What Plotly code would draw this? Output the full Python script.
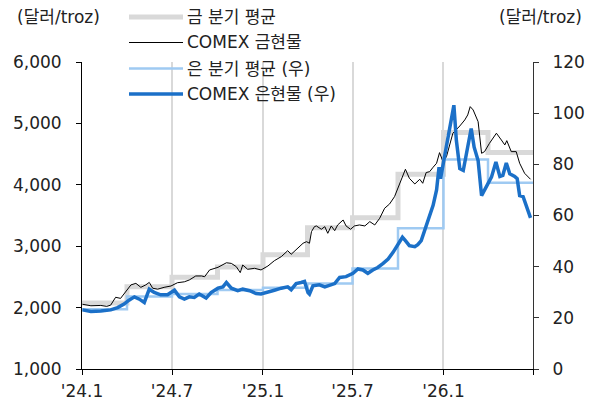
import plotly.graph_objects as go

# weekly-ish COMEX prices
gold_dates = ["2024-01-02", "2024-01-19", "2024-02-08", "2024-02-20", "2024-02-28", "2024-03-09", "2024-03-19",
              "2024-03-30", "2024-04-09", "2024-04-19", "2024-04-29", "2024-05-09", "2024-05-16", "2024-05-23",
              "2024-06-02", "2024-06-15", "2024-06-29", "2024-07-12", "2024-07-26", "2024-08-05", "2024-08-18",
              "2024-08-30", "2024-09-05", "2024-09-15", "2024-10-02", "2024-10-19", "2024-10-29", "2024-11-08",
              "2024-11-16", "2024-11-21", "2024-12-01", "2024-12-15", "2024-12-28", "2025-01-11", "2025-01-24",
              "2025-02-07", "2025-02-20", "2025-02-27", "2025-03-13", "2025-03-23", "2025-03-30", "2025-04-05",
              "2025-04-09", "2025-04-15", "2025-04-19", "2025-04-29", "2025-05-06", "2025-05-12", "2025-05-19",
              "2025-05-26", "2025-06-01", "2025-06-12", "2025-06-18", "2025-06-27", "2025-07-05", "2025-07-15",
              "2025-07-26", "2025-08-05", "2025-08-15", "2025-08-25", "2025-09-04", "2025-09-14", "2025-09-24",
              "2025-10-04", "2025-10-16", "2025-10-24", "2025-11-04", "2025-11-14", "2025-11-20", "2025-11-27",
              "2025-12-04", "2025-12-11", "2025-12-18", "2025-12-24", "2025-12-31", "2026-01-07", "2026-01-20",
              "2026-02-03", "2026-02-13", "2026-02-19", "2026-02-24", "2026-03-02", "2026-03-12", "2026-03-19",
              "2026-03-25", "2026-04-04", "2026-04-18", "2026-04-28", "2026-05-05", "2026-05-09", "2026-05-18",
              "2026-05-28", "2026-06-04", "2026-06-14", "2026-06-26"]
gold_spot = [2054, 2030, 2035, 2020, 2040, 2168, 2150, 2260, 2370, 2395, 2330, 2370, 2410, 2315, 2300, 2330,
             2352, 2405, 2420, 2450, 2515, 2515, 2503, 2613, 2656, 2730, 2720, 2667, 2570, 2694, 2624, 2640,
             2613, 2678, 2764, 2830, 2927, 2868, 2982, 3048, 3074, 3048, 3237, 3318, 3330, 3276, 3318, 3210,
             3330, 3253, 3346, 3427, 3330, 3276, 3330, 3346, 3330, 3400, 3346, 3455, 3618, 3688, 3807, 4025,
             4253, 4106, 4013, 4090, 4025, 4200, 4214, 4286, 4351, 4524, 4377, 4458, 4840, 4958, 5056, 5138,
             5273, 5219, 5028, 4513, 4540, 4676, 4840, 4730, 4649, 4719, 4540, 4540, 4351, 4188, 4090]

silver_dates = ["2024-01-02", "2024-01-19", "2024-02-08", "2024-02-28", "2024-03-13", "2024-03-26", "2024-04-05",
                "2024-04-16", "2024-04-26", "2024-05-06", "2024-05-16", "2024-05-26", "2024-06-08", "2024-06-22",
                "2024-07-06", "2024-07-16", "2024-07-26", "2024-08-05", "2024-08-15", "2024-08-25", "2024-09-08",
                "2024-09-18", "2024-10-02", "2024-10-12", "2024-10-19", "2024-10-29", "2024-11-11", "2024-11-21",
                "2024-12-05", "2024-12-18", "2024-12-28", "2025-01-11", "2025-01-24", "2025-02-07", "2025-02-20",
                "2025-02-27", "2025-03-09", "2025-03-19", "2025-03-26", "2025-04-02", "2025-04-05", "2025-04-12",
                "2025-04-25", "2025-05-06", "2025-05-16", "2025-05-26", "2025-06-05", "2025-06-18", "2025-07-02",
                "2025-07-12", "2025-07-22", "2025-08-01", "2025-08-11", "2025-08-21", "2025-09-01", "2025-09-11",
                "2025-09-21", "2025-10-01", "2025-10-10", "2025-10-16", "2025-10-24", "2025-11-04", "2025-11-10",
                "2025-11-17", "2025-11-24", "2025-12-01", "2025-12-11", "2025-12-18", "2025-12-23", "2025-12-26",
                "2025-12-31", "2026-01-07", "2026-01-15", "2026-01-22", "2026-01-27", "2026-02-03", "2026-02-10",
                "2026-02-16", "2026-02-26", "2026-03-04", "2026-03-12", "2026-03-19", "2026-03-29", "2026-04-08",
                "2026-04-17", "2026-04-25", "2026-05-01", "2026-05-08", "2026-05-15", "2026-05-25", "2026-05-30",
                "2026-06-04", "2026-06-11", "2026-06-18", "2026-06-26"]
silver_spot = [23.1, 22.5, 22.7, 23.1, 24.0, 25.4, 26.9, 28.2, 27.3, 26.0, 31.2, 29.9, 29.0, 29.0, 30.8, 28.2,
               27.3, 28.2, 28.0, 29.3, 27.7, 29.9, 31.6, 32.1, 33.8, 31.6, 30.6, 31.2, 30.6, 29.5, 29.3, 29.9,
               30.8, 31.6, 32.1, 31.0, 33.4, 33.8, 34.2, 29.9, 29.3, 32.5, 32.9, 32.1, 32.9, 33.4, 35.8, 36.1,
               37.4, 39.1, 38.7, 37.4, 38.7, 39.7, 41.3, 43.0, 45.6, 48.9, 51.5, 50.2, 48.2, 47.8, 48.6, 50.2,
               54.1, 58.7, 64.0, 70.0, 78.9, 74.4, 79.6, 86.7, 95.9, 103.1, 89.4, 78.3, 77.6, 84.2, 94.0, 86.7,
               81.5, 67.8, 71.1, 75.0, 80.9, 75.3, 75.7, 80.5, 76.3, 75.3, 74.4, 67.8, 67.4, 63.9, 59.1]

# quarterly averages (step lines), quarter starts + end of last quarter
quarter_starts = ["2024-01-01", "2024-04-01", "2024-07-01", "2024-10-01", "2025-01-01", "2025-04-01",
                  "2025-07-01", "2025-10-01", "2026-01-01", "2026-04-01", "2026-07-01"]
gold_qavg = [2075, 2340, 2495, 2660, 2860, 3300, 3465, 4170, 4850, 4525]
silver_qavg = [23.4, 28.3, 29.3, 30.9, 31.8, 33.4, 39.3, 55.0, 81.9, 72.8]

tick_dates = ["2024-01-01", "2024-07-01", "2025-01-01", "2025-07-01", "2026-01-01", "2026-07-01"]
tick_labels = ["'24.1", "'24.7", "'25.1", "'25.7", "'26.1", ""]

legend_names = ["금 분기 평균", "COMEX 금현물", "은 분기 평균 (우)", "COMEX 은현물 (우)"]

FONT = "DejaVu Sans, Noto Sans CJK KR"
TXT = "#222"
GRAY = "#d9d9d9"
LIGHT_BLUE = "#9fcaf2"
BLUE = "#1b70c8"

fig = go.Figure()
fig.add_trace(go.Scatter(x=quarter_starts, y=gold_qavg + [gold_qavg[-1]], mode="lines", line_shape="hv",
                         line=dict(color=GRAY, width=5), name=legend_names[0]))
fig.add_trace(go.Scatter(x=quarter_starts, y=silver_qavg + [silver_qavg[-1]], mode="lines", line_shape="hv",
                         line=dict(color=LIGHT_BLUE, width=2.5), name=legend_names[2], yaxis="y2"))
fig.add_trace(go.Scatter(x=gold_dates, y=gold_spot, mode="lines",
                         line=dict(color="black", width=1), name=legend_names[1]))
fig.add_trace(go.Scatter(x=silver_dates, y=silver_spot, mode="lines",
                         line=dict(color=BLUE, width=3.5), name=legend_names[3], yaxis="y2"))

# page body has an 8px margin, so the figure is a bit smaller than the window
OFF = 8
W, H = 585, 394
L, R, T, B = 74, 60, 54, 33
pw, ph = W - L - R, H - T - B


def px(x):
    return (x - OFF - L) / pw


def py(y):
    return (H - B - (y - OFF)) / ph


# hand-drawn legend (longer line samples than plotly's built-in legend)
leg_styles = [(GRAY, 5), ("black", 1.2), (LIGHT_BLUE, 2.5), (BLUE, 3.5)]
leg_rows = [17, 42.5, 68.5, 94]
shapes = []
annotations = []
for (col, w), yy, name in zip(leg_styles, leg_rows, legend_names):
    shapes.append(dict(type="line", xref="paper", yref="paper", x0=px(129), x1=px(183), y0=py(yy), y1=py(yy),
                       line=dict(color=col, width=w)))
    annotations.append(dict(xref="paper", yref="paper", x=px(185), y=py(yy), text=name, showarrow=False,
                            xanchor="left", yanchor="middle", font=dict(size=17, color=TXT, family=FONT)))

annotations.append(dict(xref="paper", yref="paper", x=px(15), y=py(17), text="(달러/troz)", showarrow=False,
                        xanchor="left", yanchor="middle", font=dict(size=17, color=TXT, family=FONT)))
annotations.append(dict(xref="paper", yref="paper", x=px(584), y=py(17), text="(달러/troz)", showarrow=False,
                        xanchor="right", yanchor="middle", font=dict(size=17, color=TXT, family=FONT)))

fig.update_layout(
    width=W, height=H,
    margin=dict(l=L, r=R, t=T, b=B, autoexpand=False),
    paper_bgcolor="white", plot_bgcolor="white",
    showlegend=False,
    font=dict(family=FONT, size=17, color=TXT),
    xaxis=dict(type="date", range=["2024-01-01", "2026-07-01"], tickvals=tick_dates, ticktext=tick_labels,
               showgrid=True, gridcolor=GRAY, gridwidth=2, showline=True, linecolor="black", linewidth=1,
               ticks="outside", ticklen=5, tickcolor="black", zeroline=False, ticklabelstandoff=2,
               automargin=False),
    yaxis=dict(range=[1000, 6000], tickvals=[1000, 2000, 3000, 4000, 5000, 6000], tickformat=",",
               showgrid=False, showline=True, linecolor="black", linewidth=1, ticks="outside", ticklen=5,
               tickcolor="black", zeroline=False, ticklabelstandoff=11, automargin=False),
    yaxis2=dict(range=[0, 120], tickvals=[0, 20, 40, 60, 80, 100, 120], overlaying="y", side="right",
                showgrid=False, showline=True, linecolor="#333", linewidth=1, ticks="outside", ticklen=5,
                tickcolor="#333", zeroline=False, ticklabelstandoff=10, automargin=False),
    shapes=shapes,
    annotations=annotations,
)

fig.write_html("out.html")
